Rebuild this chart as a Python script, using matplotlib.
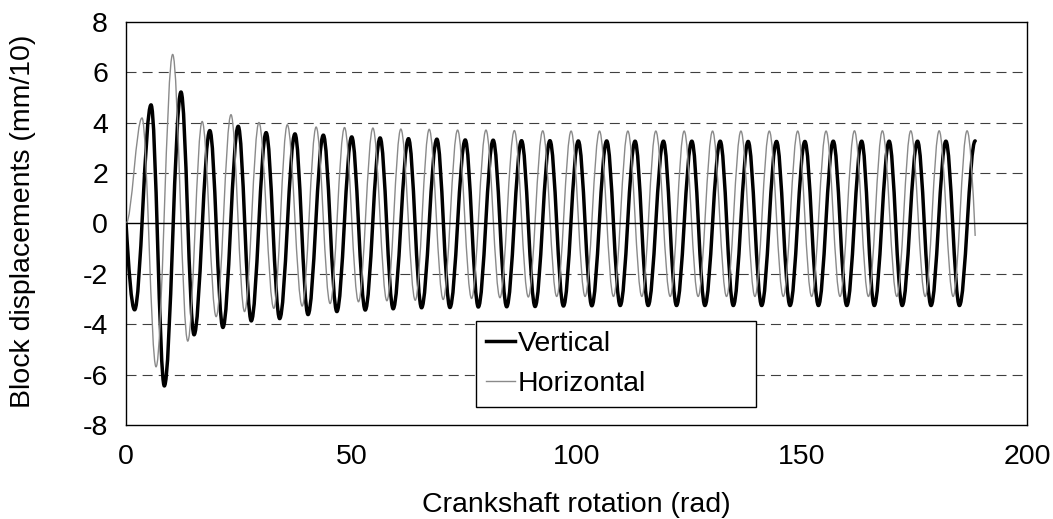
import matplotlib
matplotlib.use("Agg")
import matplotlib.pyplot as plt
from matplotlib.path import Path
from matplotlib.patches import PathPatch
from matplotlib.lines import Line2D

plt.rcParams['font.family'] = ['Liberation Sans', 'DejaVu Sans']
plt.rcParams['axes.unicode_minus'] = False

# Extremes (peaks / troughs): rotation (rad) and displacement (mm/10)
vert_x = [0.0, 1.9, 5.55, 8.5, 12.2, 15.1, 18.6, 21.5, 24.9, 27.8, 31.1, 34.1, 37.5, 40.4,
          43.8, 46.8, 50.1, 53.1, 56.4, 59.3, 62.7, 65.6, 69.0, 71.9, 75.3, 78.2, 81.5, 84.5,
          87.8, 90.8, 94.1, 97.1, 100.4, 103.4, 106.7, 109.7, 113.0, 115.9, 119.3, 122.2,
          125.6, 128.5, 131.9, 134.8, 138.1, 141.1, 144.4, 147.4, 150.7, 153.7, 157.0, 160.0,
          163.3, 166.1, 169.4, 172.3, 175.7, 178.7, 182.0, 185.0, 188.5]
vert_y = [0.0, -3.43, 4.70, -6.45, 5.21, -4.42, 3.68, -4.13, 3.85, -3.87, 3.60, -3.78, 3.55, -3.62,
          3.50, -3.50, 3.43, -3.44, 3.39, -3.39, 3.36, -3.35, 3.34, -3.34, 3.31, -3.32, 3.30, -3.31,
          3.28, -3.30, 3.28, -3.28, 3.27, -3.27, 3.27, -3.26, 3.26, -3.26, 3.26, -3.26,
          3.26, -3.26, 3.26, -3.26, 3.25, -3.26, 3.25, -3.26, 3.25, -3.26, 3.26, -3.26,
          3.26, -3.26, 3.26, -3.26, 3.26, -3.26, 3.26, -3.26, 3.27]

horiz_x = [0.0, 3.55, 6.66, 10.35, 13.7, 16.9, 20.0, 23.3, 26.3, 29.5, 32.8, 35.8, 39.1, 42.2,
           45.3, 48.5, 51.6, 54.8, 57.9, 61.0, 64.2, 67.3, 70.4, 73.6, 76.7, 79.9, 83.0, 86.2,
           89.3, 92.5, 95.6, 98.8, 101.9, 105.1, 108.2, 111.4, 114.5, 117.6, 120.8, 123.9,
           127.0, 130.2, 133.3, 136.5, 139.6, 142.8, 145.9, 149.1, 152.2, 155.4, 158.5, 161.7,
           164.8, 167.9, 171.1, 174.2, 177.4, 180.5, 183.6, 186.7, 188.5]
horiz_y = [0.0, 4.18, -5.69, 6.70, -4.67, 4.04, -3.70, 4.31, -3.50, 4.00, -3.37, 3.91, -3.28, 3.82,
           -3.18, 3.80, -3.11, 3.78, -3.07, 3.74, -3.05, 3.73, -3.02, 3.70, -2.98, 3.70, -2.95, 3.68,
           -2.92, 3.67, -2.90, 3.66, -2.90, 3.66, -2.90, 3.66, -2.90, 3.66, -2.90, 3.66,
           -2.90, 3.66, -2.90, 3.66, -2.90, 3.66, -2.90, 3.66, -2.90, 3.66, -2.90, 3.67,
           -2.90, 3.67, -2.90, 3.67, -2.90, 3.67, -2.90, 3.67, -0.5]

y_ticks = [-8, -6, -4, -2, 0, 2, 4, 6, 8]
x_ticks = [0, 50, 100, 150, 200]
series_names = ['Vertical', 'Horizontal']
x_title = 'Crankshaft rotation (rad)'
y_title = 'Block displacements (mm/10)'

FS = 20.5


def wave_path(xs, ys, steep_start=False, steep_end=False):
    """Smooth path through extremes using cubic Bezier segments (flat tangents at extremes)."""
    k = 0.3634
    verts = [(xs[0], ys[0])]
    codes = [Path.MOVETO]
    n = len(xs)
    for i in range(n - 1):
        x0, y0, x1, y1 = xs[i], ys[i], xs[i + 1], ys[i + 1]
        dx, dy = x1 - x0, y1 - y0
        c1 = (x0 + k * dx, y0)
        c2 = (x1 - k * dx, y1)
        if steep_start and i == 0:
            c1 = (x0 + 0.3 * dx, y0 + 0.5 * dy)
        if steep_end and i == n - 2:
            c2 = (x1 - 0.3 * dx, y1 - 0.5 * dy)
        verts += [c1, c2, (x1, y1)]
        codes += [Path.CURVE4, Path.CURVE4, Path.CURVE4]
    return Path(verts, codes)


fig = plt.figure(figsize=(10.53, 5.19), dpi=100)
ax = fig.add_axes([0.1197, 0.1811, 0.8556, 0.7771])
ax.set_xlim(0, 200)
ax.set_ylim(-8, 8)

# gridlines
for yv in y_ticks:
    if yv in (-8, 8):
        continue
    if yv == 0:
        ax.axhline(0, color='black', lw=1.0, zorder=4)
    else:
        ax.axhline(yv, color='#404040', lw=0.8, linestyle=(0, (9, 5.5)), zorder=1)

vpatch = PathPatch(wave_path(vert_x, vert_y, steep_start=True), facecolor='none',
                   edgecolor='black', lw=2.5, capstyle='round', joinstyle='round', zorder=2)
hpatch = PathPatch(wave_path(horiz_x, horiz_y, steep_end=True), facecolor='none',
                   edgecolor='#8a8a8a', lw=1.0, zorder=3)
ax.add_patch(vpatch)
ax.add_patch(hpatch)

ax.set_xticks(x_ticks)
ax.set_yticks(y_ticks)
ax.tick_params(axis='both', length=0, labelsize=FS, colors='black')
ax.tick_params(axis='x', pad=14)
ax.tick_params(axis='y', pad=13)
for s in ax.spines.values():
    s.set_color('black')
    s.set_linewidth(1.0)

fig.text(576.5 / 1053, 1 - 512 / 519, x_title, fontsize=FS, ha='center', va='baseline')
fig.text(23 / 1053, 1 - 221 / 519, y_title, fontsize=FS, ha='center', va='center',
         rotation=90)

handles = [Line2D([], [], color='black', lw=2.5), Line2D([], [], color='#8a8a8a', lw=1.0)]
leg = ax.legend(handles, series_names, loc='lower left',
                bbox_to_anchor=(0.3885, 0.0454, 0.3107, 0.2083), mode='expand',
                fontsize=FS, frameon=True, fancybox=False, edgecolor='black',
                framealpha=1, borderpad=0.35, handlelength=1.02, handletextpad=0.1,
                labelspacing=0.47, borderaxespad=0)
leg.get_frame().set_linewidth(1.0)
leg.set_zorder(6)

fig.savefig('out.png', dpi=100)
